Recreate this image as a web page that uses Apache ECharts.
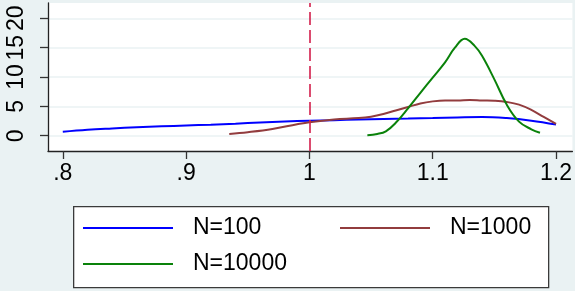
<!DOCTYPE html>
<html>
<head>
<meta charset="utf-8">
<script src="https://cdn.jsdelivr.net/npm/echarts@6/dist/echarts.min.js"></script>
<style>
html, body { margin: 0; padding: 0; background: #eaf2f3; }
#main { width: 575px; height: 291px; }
</style>
</head>
<body>
<div id="main"></div>
<script>
var chartDom = document.getElementById('main');
var myChart = echarts.init(chartDom);
var option;

// kernel density estimates
var n100X = [0.80, 0.82, 0.84, 0.86, 0.88, 0.90, 0.92, 0.94, 0.96, 0.98, 1.00, 1.02, 1.04, 1.06, 1.08, 1.10, 1.12, 1.14, 1.16, 1.18, 1.20];
var n100Y = [0.68, 1.02, 1.25, 1.45, 1.6, 1.75, 1.88, 2.05, 2.25, 2.42, 2.55, 2.65, 2.75, 2.85, 2.92, 3.0, 3.12, 3.2, 3.0, 2.55, 1.9];

var n1000X = [0.935, 0.95, 0.97, 0.99, 1.00, 1.02, 1.04, 1.05, 1.06, 1.07, 1.08, 1.09, 1.10, 1.11, 1.12, 1.13, 1.14, 1.15, 1.16, 1.17, 1.18, 1.19, 1.20];
var n1000Y = [0.3, 0.6, 1.15, 1.95, 2.3, 2.75, 3.0, 3.25, 3.7, 4.3, 4.9, 5.5, 5.85, 6.0, 6.0, 6.08, 6.0, 5.95, 5.75, 5.3, 4.4, 3.2, 2.0];

var n10000X = [1.047, 1.055, 1.062, 1.07, 1.08, 1.09, 1.10, 1.11, 1.118, 1.126, 1.134, 1.14, 1.15, 1.16, 1.17, 1.18, 1.187];
var n10000Y = [0.1, 0.3, 0.75, 2.2, 4.67, 7.3, 9.9, 12.5, 15.0, 16.5, 15.3, 13.6, 9.6, 5.3, 2.4, 1.1, 0.5];

var xTicks = [0.8, 0.9, 1, 1.1, 1.2];
var yTicks = [0, 5, 10, 15, 20];
var refLine = 1;

function pairs(xs, ys) {
    var out = [];
    for (var i = 0; i < xs.length; i++) {
        out.push([xs[i], ys[i]]);
    }
    return out;
}

var font = 'Liberation Sans, Arial, sans-serif';

option = {
    backgroundColor: '#eaf2f3',
    animation: false,
    grid: {
        left: 48,
        right: 0,
        top: 3,
        bottom: 140,
        show: true,
        backgroundColor: '#ffffff',
        borderWidth: 0
    },
    xAxis: {
        type: 'value',
        min: 0.788,
        max: 1.2133,
        axisLine: {show: true, onZero: false, lineStyle: {color: '#222', width: 1.3}},
        axisTick: {show: true, length: 8, customValues: xTicks, lineStyle: {color: '#333', width: 1.3}},
        axisLabel: {
            customValues: xTicks,
            margin: 11,
            fontSize: 23,
            fontFamily: font,
            color: '#000',
            formatter: function (v) {
                return String(v).replace(/^0\./, '.');
            }
        },
        splitLine: {show: false}
    },
    yAxis: {
        type: 'value',
        min: -2.6,
        max: 22.6,
        axisLine: {show: true, lineStyle: {color: '#222', width: 1.3}},
        axisTick: {show: true, length: 8, customValues: yTicks, lineStyle: {color: '#333', width: 1.3}},
        axisLabel: {
            customValues: yTicks,
            rotate: 90,
            margin: 20,
            fontSize: 23,
            fontFamily: font,
            color: '#000'
        },
        splitLine: {show: true, lineStyle: {color: '#eaf2f3', width: 1.6}}
    },
    legend: [
        {data: ['N=100'], left: 83, top: 215},
        {data: ['N=1000'], left: 340, top: 215},
        {data: ['N=10000'], left: 83, top: 251}
    ].map(function (l) {
        l.padding = 0;
        l.icon = 'rect';
        l.itemWidth = 90;
        l.itemHeight = 2;
        l.selectedMode = false;
        l.z = 10;
        l.textStyle = {fontSize: 23, fontFamily: font, color: '#000', lineHeight: 26, padding: [0, 0, 0, 15]};
        return l;
    }),
    graphic: [{
        type: 'rect',
        left: 73,
        top: 206,
        z: 1,
        shape: {width: 475, height: 81},
        style: {fill: '#ffffff', stroke: '#3a3a3a', lineWidth: 1.3}
    }],
    series: [
        {
            name: 'N=100',
            type: 'line',
            symbol: 'none',
            smooth: 0.4,
            data: pairs(n100X, n100Y),
            lineStyle: {color: '#0000ff', width: 2},
            itemStyle: {color: '#0000ff'},
            z: 3,
            markLine: {
                silent: true,
                symbol: 'none',
                label: {show: false},
                lineStyle: {color: '#d31f4c', type: [13, 5], width: 1.6},
                data: [{xAxis: refLine}]
            }
        },
        {
            name: 'N=1000',
            type: 'line',
            symbol: 'none',
            smooth: 0.4,
            data: pairs(n1000X, n1000Y),
            lineStyle: {color: '#923c3e', width: 2},
            itemStyle: {color: '#923c3e'},
            z: 4
        },
        {
            name: 'N=10000',
            type: 'line',
            symbol: 'none',
            smooth: 0.4,
            data: pairs(n10000X, n10000Y),
            lineStyle: {color: '#0a820a', width: 2},
            itemStyle: {color: '#0a820a'},
            z: 5
        }
    ]
};

option && myChart.setOption(option);
</script>
</body>
</html>
